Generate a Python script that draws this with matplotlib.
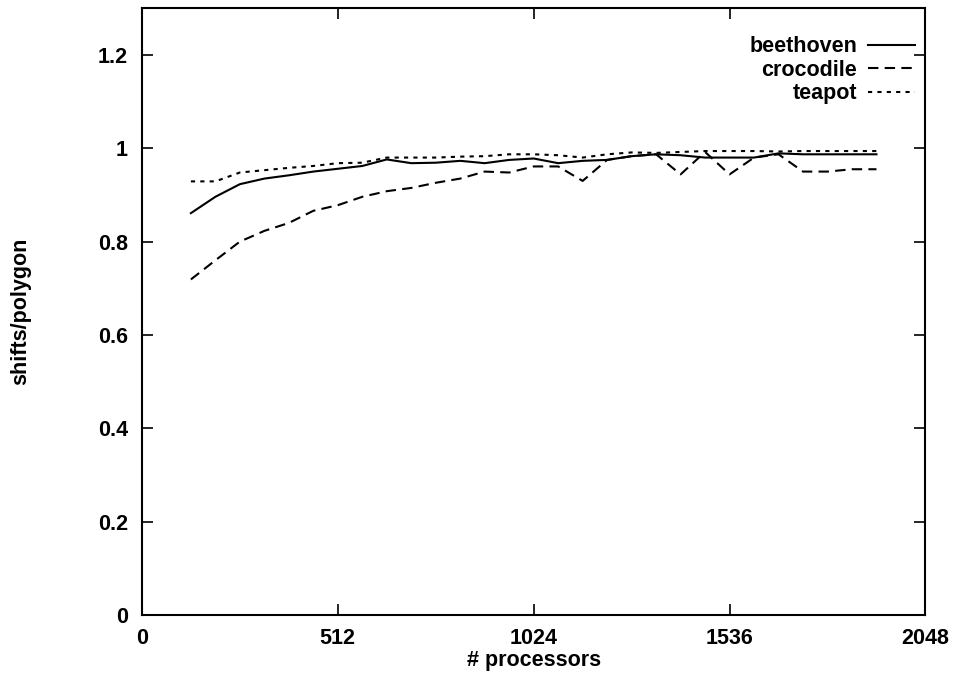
import matplotlib
matplotlib.use("Agg")
import matplotlib.pyplot as plt
from matplotlib.ticker import FuncFormatter

plt.rcParams['font.family'] = ['Liberation Sans', 'DejaVu Sans']
plt.rcParams['font.weight'] = 'bold'
plt.rcParams['axes.labelweight'] = 'bold'

# number of processors (x) for every sample
processors = list(range(128, 1921, 64))

beethoven = [0.861, 0.896, 0.923, 0.935, 0.942, 0.950, 0.956, 0.962, 0.976, 0.968,
             0.969, 0.973, 0.968, 0.975, 0.978, 0.968, 0.973, 0.975, 0.983, 0.987,
             0.985, 0.980, 0.980, 0.980, 0.989, 0.987, 0.987, 0.987, 0.987]
crocodile = [0.719, 0.760, 0.800, 0.823, 0.840, 0.866, 0.878, 0.896, 0.908, 0.915,
             0.926, 0.935, 0.950, 0.948, 0.961, 0.961, 0.930, 0.975, 0.983, 0.987,
             0.944, 0.992, 0.944, 0.980, 0.987, 0.950, 0.950, 0.955, 0.955]
teapot = [0.929, 0.929, 0.948, 0.953, 0.958, 0.962, 0.968, 0.969, 0.980, 0.980,
          0.980, 0.982, 0.983, 0.987, 0.987, 0.985, 0.980, 0.987, 0.991, 0.990,
          0.992, 0.994, 0.994, 0.994, 0.993, 0.994, 0.994, 0.994, 0.994]

x_ticks = [0, 512, 1024, 1536, 2048]
y_ticks = [0, 0.2, 0.4, 0.6, 0.8, 1.0, 1.2]

fig = plt.figure(figsize=(9.59, 6.79), dpi=100)
ax = fig.add_axes([0.148, 0.094, 0.817, 0.894])

ax.plot(processors, beethoven, color='black', lw=1.5, linestyle='-', label='beethoven')
ax.plot(processors, crocodile, color='black', lw=1.5, linestyle=(0, (5, 3)), label='crocodile')
ax.plot(processors, teapot, color='black', lw=1.5, linestyle=(0, (2, 2.5)), label='teapot')

ax.set_xlim(0, 2048)
ax.set_ylim(0, 1.3)
ax.set_xticks(x_ticks)
ax.set_yticks(y_ticks)
ax.yaxis.set_major_formatter(FuncFormatter(lambda v, p: '%g' % round(v, 2)))
ax.tick_params(axis='x', pad=9)
ax.tick_params(axis='y', pad=10)
ax.tick_params(direction='in', length=8, width=1.2, top=True, right=True,
               labelsize=15.5)
for s in ax.spines.values():
    s.set_linewidth(1.5)

ax.set_xlabel('# processors', fontsize=15.5, labelpad=1)
ax.set_ylabel('shifts/polygon', fontsize=15.5, labelpad=48)

leg = ax.legend(loc='upper right', bbox_to_anchor=(0.998, 0.968), frameon=False,
                markerfirst=False, fontsize=15.5, handlelength=2.2,
                handletextpad=0.5, labelspacing=0.12, borderaxespad=0.0)
for t in leg.get_texts():
    t.set_ha('right')
leg._legend_box.align = 'right'

fig.savefig('out.png', dpi=100)
